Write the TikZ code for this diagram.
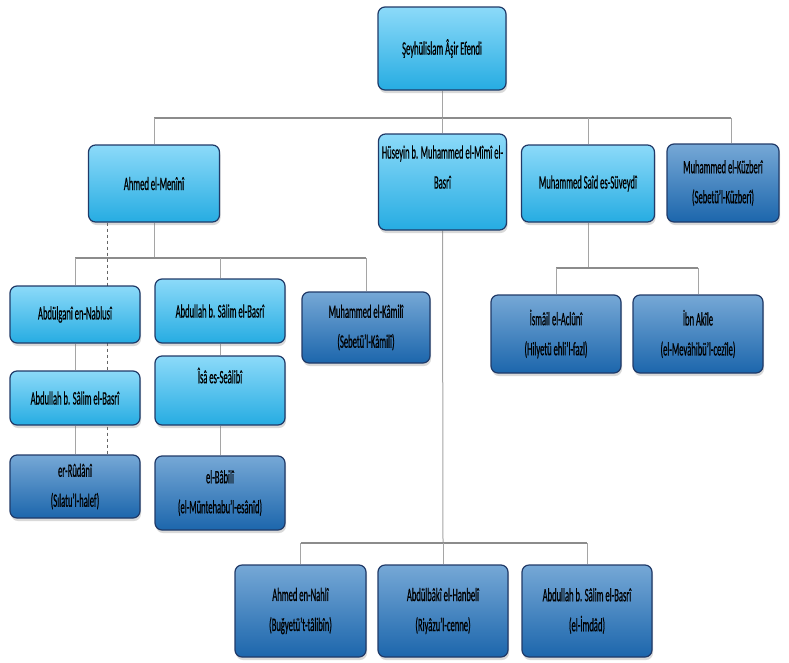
\documentclass[tikz,border=0pt]{standalone}
\usepackage{fontspec}
\setmainfont{Carlito}[FakeStretch=0.45,FakeBold=0.6]
\usetikzlibrary{shadows,backgrounds,calc}
\definecolor{lighttop}{RGB}{140,218,249}
\definecolor{lightbot}{RGB}{38,172,226}
\definecolor{darktop}{RGB}{118,168,214}
\definecolor{darkbot}{RGB}{28,102,172}
\definecolor{edgecol}{RGB}{32,58,104}
\definecolor{conncol}{RGB}{165,165,165}
\tikzset{
  box/.style={draw=edgecol, line width=1.2pt, rounded corners=7pt, inner sep=0pt,
    align=center, font=\fontsize{19}{30}\selectfont, text=black,
    drop shadow={opacity=0.3, shadow xshift=1pt, shadow yshift=-3pt}},
  lightbox/.style={box, top color=lighttop, bottom color=lightbot},
  darkbox/.style={box, top color=darktop, bottom color=darkbot},
  conn/.style={draw=conncol, line width=1pt},
  barline/.style={draw=conncol!85!black, line width=1.6pt},
  hidden/.style={draw=black!60, line width=1pt, dashed},
}
\begin{document}
\begin{tikzpicture}[x=1pt,y=-1pt]
\useasboundingbox (0,0) rectangle (789,662);
% level 0
\node[lightbox, minimum width=128pt, minimum height=83pt] (root) at (442,48.5) {Şeyhülislam Âşir Efendi};
% level 1
\node[lightbox, minimum width=131pt, minimum height=77pt] (ahmed) at (154,183.5) {Ahmed el-Menînî};
\node[lightbox, minimum width=128pt, minimum height=96pt] (huseyin) at (442.5,182) {Hüseyin b. Muhammed el-Mîmî el-\\Basrî\\~};
\node[lightbox, minimum width=133pt, minimum height=77pt] (said) at (588,183.5) {Muhammed Saîd es-Süveydî};
\node[darkbox, minimum width=112pt, minimum height=78pt] (kuz) at (723,183) {Muhammed el-Küzberî\\(Sebetü'l-Küzberî)};
% Ahmed el-Menini group
\node[lightbox, minimum width=130pt, minimum height=57pt] (nablusi) at (75,314.5) {Abdülganî en-Nablusî};
\node[lightbox, minimum width=130pt, minimum height=54pt] (basri1) at (75,398) {Abdullah b. Sâlim el-Basrî};
\node[darkbox, minimum width=130pt, minimum height=63pt] (rudani) at (75,486.5) {er-Rûdânî\\(Sılatu'l-halef)};
\node[lightbox, minimum width=130pt, minimum height=64pt] (basri2) at (220,311) {Abdullah b. Sâlim el-Basrî};
\node[lightbox, minimum width=130pt, minimum height=69pt] (isa) at (220,390.5) {Îsâ es-Seâlibî\\~};
\node[darkbox, minimum width=130pt, minimum height=74pt] (babili) at (220,493) {el-Bâbilî\\(el-Müntehabu'l-esânîd)};
\node[darkbox, minimum width=128pt, minimum height=71pt] (kamili) at (366,327.5) {Muhammed el-Kâmilî\\(Sebetü'l-Kâmilî)};
% Said group
\node[darkbox, minimum width=130pt, minimum height=78pt] (acluni) at (556,334) {İsmâil el-Aclûnî\\(Hilyetü ehli'l-fazl)};
\node[darkbox, minimum width=130pt, minimum height=78pt] (akile) at (698,334) {İbn Akîle\\(el-Mevâhibü'l-cezîle)};
% Huseyin group
\node[darkbox, minimum width=131pt, minimum height=92pt] (nahli) at (300.5,611) {Ahmed en-Nahlî\\(Buğyetü't-tâlibîn)};
\node[darkbox, minimum width=130pt, minimum height=92pt] (baki) at (443,611) {Abdülbâkî el-Hanbelî\\(Riyâzu'l-cenne)};
\node[darkbox, minimum width=130pt, minimum height=92pt] (imdad) at (587,611) {Abdullah b. Sâlim el-Basrî\\(el-İmdâd)};
% bar coordinates
\coordinate (rb) at (442,118);
\coordinate (ab) at (154,258);
\coordinate (sb) at (588,268);
\coordinate (hb) at (443,543);
\begin{scope}[on background layer]
  \draw[conn] (root.south) -- (rb);
  \draw[barline] (ahmed.north |- rb) -- ([xshift=8pt]kuz.north |- rb);
  \draw[conn] (ahmed.north |- rb) -- (ahmed.north);
  \draw[conn] (huseyin.north |- rb) -- (huseyin.north);
  \draw[conn] (said.north |- rb) -- (said.north);
  \draw[conn] ([xshift=8pt]kuz.north |- rb) -- ([xshift=8pt]kuz.north);
  % Ahmed group
  \draw[conn] (ahmed.south) -- (ab);
  \draw[barline] (nablusi.north |- ab) -- (kamili.north |- ab);
  \draw[conn] (nablusi.north |- ab) -- (nablusi.north);
  \draw[conn] (basri2.north |- ab) -- (basri2.north);
  \draw[conn] (kamili.north |- ab) -- (kamili.north);
  \draw[conn] (nablusi.south) -- (basri1.north);
  \draw[conn] (basri1.south) -- (rudani.north);
  \draw[conn] (basri2.south) -- (isa.north);
  \draw[conn] (isa.south) -- (babili.north);
  \draw[hidden] ([xshift=-47pt]ahmed.south) -- ([xshift=32pt]rudani.north);
  % Said group
  \draw[conn] (said.south) -- (sb);
  \draw[barline] (acluni.north |- sb) -- (akile.north |- sb);
  \draw[conn] (acluni.north |- sb) -- (acluni.north);
  \draw[conn] (akile.north |- sb) -- (akile.north);
  % Huseyin group
  \draw[conn] (huseyin.south) -- (hb);
  \draw[barline] (nahli.north |- hb) -- (imdad.north |- hb);
  \draw[conn] (nahli.north |- hb) -- (nahli.north);
  \draw[conn] (baki.north |- hb) -- (baki.north);
  \draw[conn] (imdad.north |- hb) -- (imdad.north);
\end{scope}
\end{tikzpicture}
\end{document}
